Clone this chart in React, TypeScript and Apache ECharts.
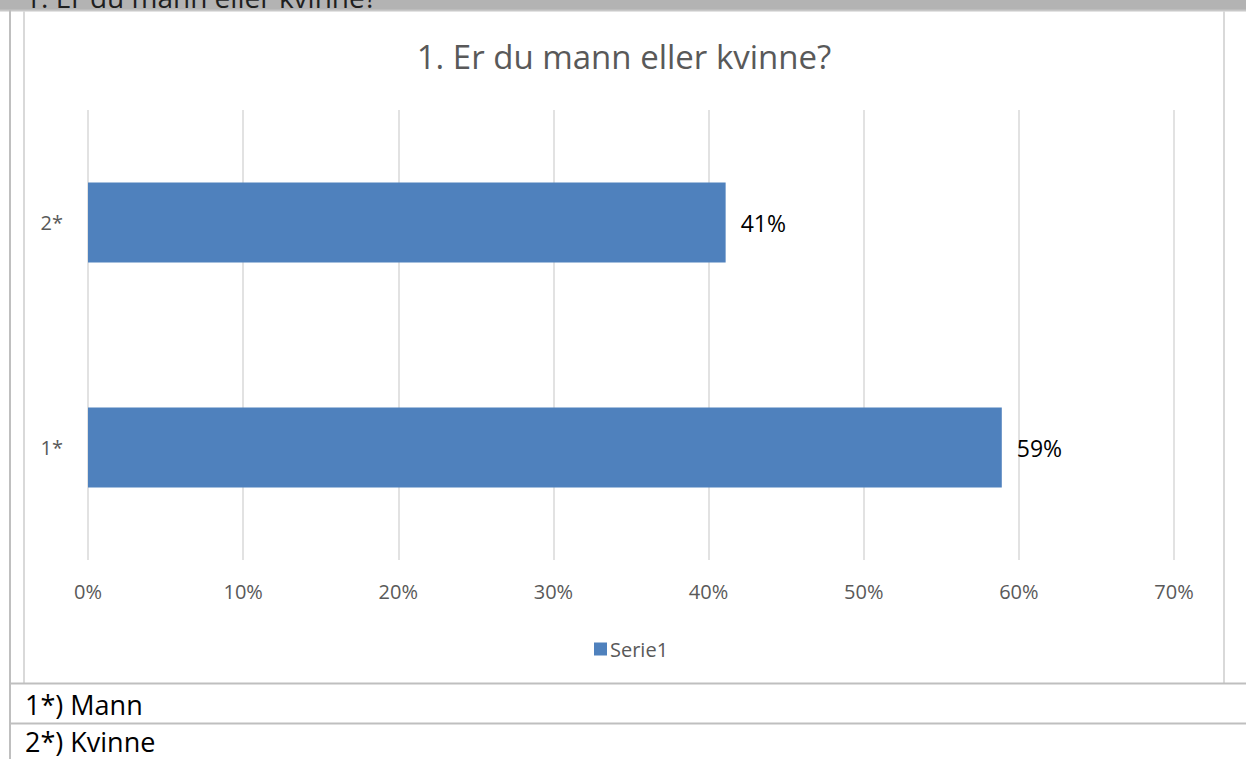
import React, { useEffect, useRef } from "react";
import * as echarts from "echarts";

const categories = ["1*", "2*"];
const values = [0.589, 0.411];
const seriesName = "Serie1";
const titleText = "1. Er du mann eller kvinne?";
const footnotes = ["1*) Mann", "2*) Kvinne"];
const xMax = 0.7;
const xInterval = 0.1;

const FONT = "'Open Sans', 'Noto Sans', sans-serif";

export default function App() {
  const ref = useRef<HTMLDivElement>(null);
  useEffect(() => {
    if (!ref.current) return;
    const chart = echarts.init(ref.current, undefined, { renderer: "svg" });
    chart.setOption({
      animation: false,
      backgroundColor: "#ffffff",
      textStyle: { fontFamily: FONT },
      title: {
        text: titleText,
        left: 619,
        textAlign: "center",
        top: 35,
        textStyle: { fontFamily: FONT, fontSize: 33, fontWeight: "normal", color: "#595959" },
      },
      legend: {
        data: [seriesName],
        left: 589,
        top: 634,
        icon: "rect",
        itemWidth: 13,
        itemHeight: 13,
        itemGap: 6,
        textStyle: { fontFamily: FONT, fontSize: 20, color: "#595959", padding: [0, 0, 0, -2] },
      },
      grid: { left: 88, right: 72, top: 110, bottom: 199, containLabel: false },
      xAxis: {
        type: "value",
        min: 0,
        max: xMax,
        interval: xInterval,
        axisLine: { show: false },
        axisTick: { show: false },
        splitLine: { show: true, lineStyle: { color: "#d9d9d9", width: 1.5 } },
        axisLabel: {
          margin: 21,
          fontFamily: FONT,
          fontSize: 20,
          color: "#595959",
          formatter: (v: number) => `${Math.round(v * 100)}%`,
        },
      },
      yAxis: {
        type: "category",
        data: categories,
        axisLine: { show: false },
        axisTick: { show: false },
        splitLine: { show: false },
        axisLabel: { margin: 25, fontFamily: FONT, fontSize: 20, color: "#595959" },
      },
      series: [
        {
          name: seriesName,
          type: "bar",
          data: values,
          barCategoryGap: "64.5%",
          itemStyle: { color: "#4f81bd" },
          label: {
            show: true,
            position: "right",
            distance: 15,
            fontFamily: FONT,
            fontSize: 23,
            color: "#000000",
            formatter: (p: any) => `${Math.round(p.value * 100)}%`,
          },
        },
      ],
      graphic: [
        { type: "rect", z: 100, shape: { x: 0, y: 0, width: 1246, height: 10 }, style: { fill: "#b3b3b3" } },
        {
          type: "text",
          z: 101,
          x: 25,
          y: 10.5,
          style: { text: titleText, fontFamily: FONT, fontSize: 28, fill: "#1f1f1f", verticalAlign: "bottom" },
        },
        { type: "line", z: 102, shape: { x1: 0, y1: 10.5, x2: 1246, y2: 10.5 }, style: { stroke: "#c8c8c8", lineWidth: 2 } },
        { type: "line", z: 102, shape: { x1: 10, y1: 10, x2: 10, y2: 759 }, style: { stroke: "#bfbfbf", lineWidth: 2 } },
        { type: "line", z: 102, shape: { x1: 24, y1: 11, x2: 24, y2: 683 }, style: { stroke: "#d9d9d9", lineWidth: 2 } },
        { type: "line", z: 102, shape: { x1: 1224, y1: 11, x2: 1224, y2: 683 }, style: { stroke: "#d9d9d9", lineWidth: 2 } },
        { type: "line", z: 102, shape: { x1: 10, y1: 683.5, x2: 1246, y2: 683.5 }, style: { stroke: "#bfbfbf", lineWidth: 2 } },
        { type: "line", z: 102, shape: { x1: 10, y1: 723.5, x2: 1246, y2: 723.5 }, style: { stroke: "#bfbfbf", lineWidth: 2 } },
        {
          type: "text",
          z: 101,
          x: 25,
          y: 704,
          style: { text: footnotes[0], fontFamily: FONT, fontSize: 27, fill: "#000000", verticalAlign: "middle" },
        },
        {
          type: "text",
          z: 101,
          x: 25,
          y: 741,
          style: { text: footnotes[1], fontFamily: FONT, fontSize: 27, fill: "#000000", verticalAlign: "middle" },
        },
      ],
    });
    return () => chart.dispose();
  }, []);
  return <div ref={ref} style={{ position: "absolute", left: 0, top: 0, width: 1246, height: 759 }} />;
}
